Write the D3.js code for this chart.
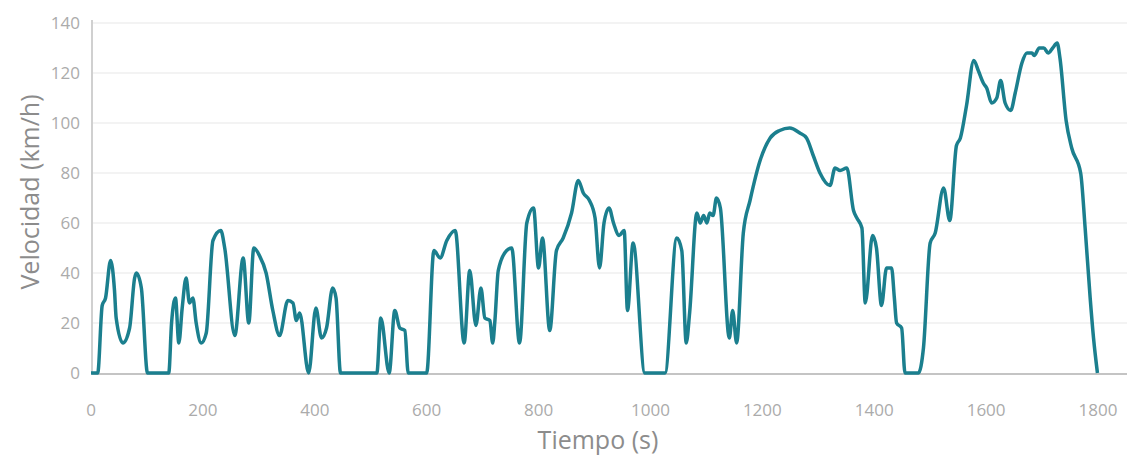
<!DOCTYPE html>
<html>
<head>
<meta charset="utf-8">
<script src="https://cdn.jsdelivr.net/npm/d3@7"></script>
<style>
  body { margin: 0; background: #fff; }
  .tick-label { font-family: "Open Sans", sans-serif; font-size: 17px; fill: #ababab; }
  .axis-title { font-family: "Open Sans", sans-serif; font-size: 25px; fill: #8c8c8c; }
</style>
</head>
<body>
<div id="chart"></div>
<script>
// time (s) and speed (km/h)
const tiempo = [0, 12, 20, 26, 35, 42, 45, 57, 69, 78, 81, 90, 101, 139, 144, 151, 157, 163, 170, 176, 182, 188, 197, 206, 218, 232, 239, 257, 272, 282, 291, 301, 313, 325, 337, 352, 361, 367, 373, 389, 402, 412, 421, 432, 438, 446, 511, 518, 533, 543, 552, 561, 567, 600, 613, 624, 636, 651, 667, 677, 688, 697, 704, 713, 718, 722, 728, 743, 752, 766, 779, 791, 800, 807, 820, 832, 844, 859, 871, 880, 891, 901, 909, 917, 926, 934, 944, 953, 959, 969, 990, 1026, 1047, 1056, 1064, 1070, 1083, 1089, 1095, 1101, 1106, 1112, 1118, 1125, 1141, 1147, 1154, 1166, 1178, 1196, 1214, 1231, 1249, 1267, 1279, 1291, 1303, 1321, 1330, 1339, 1351, 1363, 1369, 1378, 1384, 1397, 1404, 1413, 1422, 1431, 1436, 1440, 1449, 1455, 1479, 1488, 1500, 1509, 1524, 1535, 1547, 1554, 1565, 1578, 1586, 1595, 1601, 1610, 1619, 1626, 1634, 1644, 1652, 1664, 1673, 1682, 1686, 1695, 1703, 1711, 1719, 1727, 1732, 1743, 1753, 1769, 1777, 1786, 1792, 1799];
const velocidad = [0, 0, 27, 30, 45, 33, 22, 12, 18, 38, 40, 34, 0, 0, 20, 30, 12, 26, 38, 28, 30, 20, 12, 16, 53, 57, 50, 15, 46, 20, 50, 47, 40, 25, 15, 29, 28, 21, 24, 0, 26, 14, 18, 34, 30, 0, 0, 22, 0, 25, 18, 17, 0, 0, 49, 46, 53, 57, 12, 41, 19, 34, 22, 21, 12, 21, 41, 49, 50, 12, 60, 66, 42, 54, 17, 49, 54, 64, 77, 72, 69, 62, 42, 60, 66, 60, 55, 57, 25, 52, 0, 0, 54, 49, 12, 24, 64, 60, 63, 60, 64, 63, 70, 66, 14, 25, 12, 56, 69, 85, 94, 97, 98, 96, 94, 87, 80, 75, 82, 81, 82, 65, 62, 58, 28, 55, 50, 27, 42, 42, 30, 20, 18, 0, 0, 10, 52, 56, 74, 61, 91, 94, 107, 125, 121, 116, 114, 108, 110, 117, 108, 105, 112, 124, 128, 128, 127, 130, 130, 128, 130, 132, 126, 101, 90, 80, 58, 30, 14, 0];
const xTicks = [0, 200, 400, 600, 800, 1000, 1200, 1400, 1600, 1800];
const yTicks = [0, 20, 40, 60, 80, 100, 120, 140];

const W = 1127, H = 461;
const margin = {top: 23, right: 29, bottom: 88, left: 91};
const width = W - margin.left - margin.right;
const height = H - margin.top - margin.bottom;

const svg = d3.select('#chart').append('svg')
    .attr('width', W)
    .attr('height', H);

const chart = svg.append('g')
    .attr('transform', `translate(${margin.left},${margin.top})`);

const x = d3.scaleLinear().domain([0, 1800]).range([0, width]);
const y = d3.scaleLinear().domain([0, 140]).range([height, 0]);

// horizontal grid
chart.selectAll('.grid')
    .data(yTicks.filter(d => d > 0))
  .join('line')
    .attr('class', 'grid')
    .attr('x1', 1).attr('x2', W - margin.left)
    .attr('y1', d => y(d)).attr('y2', d => y(d))
    .attr('stroke', '#efefef')
    .attr('stroke-width', 1.5);

// y axis line
chart.append('line')
    .attr('x1', 1).attr('x2', 1)
    .attr('y1', -3).attr('y2', height)
    .attr('stroke', '#d0d0d0')
    .attr('stroke-width', 2);

// x axis line
chart.append('line')
    .attr('x1', 1).attr('x2', W - margin.left)
    .attr('y1', height + 1).attr('y2', height + 1)
    .attr('stroke', '#c4c4c4')
    .attr('stroke-width', 2);

// tick labels
chart.selectAll('.ylab')
    .data(yTicks)
  .join('text')
    .attr('class', 'tick-label ylab')
    .attr('x', -11)
    .attr('y', d => y(d))
    .attr('dy', '0.35em')
    .attr('text-anchor', 'end')
    .text(d => d);

chart.selectAll('.xlab')
    .data(xTicks)
  .join('text')
    .attr('class', 'tick-label xlab')
    .attr('x', d => x(d))
    .attr('y', height + 37)
    .attr('dy', '0.35em')
    .attr('text-anchor', 'middle')
    .text(d => d);

// axis titles
svg.append('text')
    .attr('class', 'axis-title')
    .attr('text-anchor', 'middle')
    .attr('transform', `translate(39,192) rotate(-90)`)
    .text('Velocidad (km/h)');

svg.append('text')
    .attr('class', 'axis-title')
    .attr('text-anchor', 'middle')
    .attr('x', 598)
    .attr('y', 449)
    .text('Tiempo (s)');

// speed line
const data = tiempo.map((t, i) => ({t: t, v: velocidad[i]}));
const line = d3.line()
    .x(d => x(d.t))
    .y(d => y(d.v))
    .curve(d3.curveMonotoneX);

chart.append('path')
    .datum(data)
    .attr('fill', 'none')
    .attr('stroke', '#1b7f8e')
    .attr('stroke-width', 3.5)
    .attr('stroke-linejoin', 'round')
    .attr('d', line);
</script>
</body>
</html>
